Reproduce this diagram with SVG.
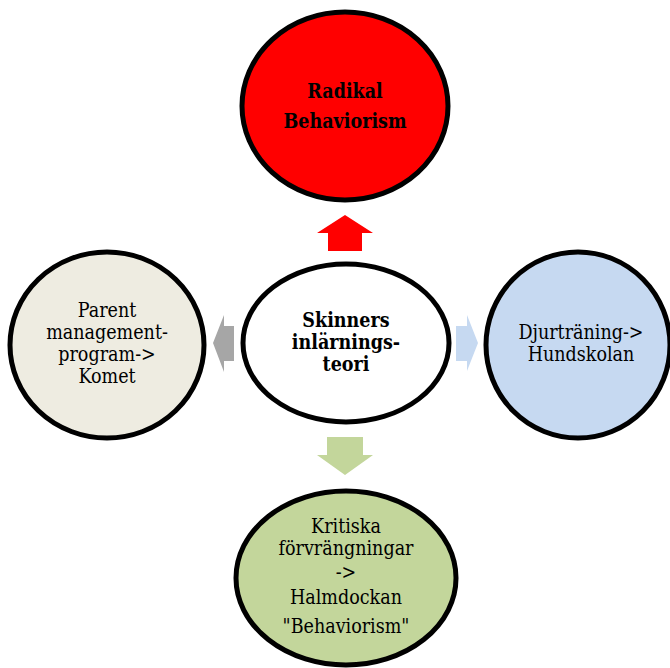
<svg xmlns="http://www.w3.org/2000/svg" width="670" height="668" viewBox="0 0 670 668">
<style>
.n{stroke:#000;stroke-width:5}
text{font-family:"DejaVu Serif Condensed","DejaVu Serif",serif;font-stretch:condensed;font-size:19.5px;fill:#000;text-anchor:middle}
.b{font-weight:bold;font-size:19.5px}
</style>
<rect width="670" height="668" fill="#fff"/>
<g id="connectors">
<polygon points="345,215 373,233 362,233 362,251 328,251 328,233 317,233" fill="#FF0000"/>
<polygon points="213,343 224,315 224,326 234,326 234,361 224,361 224,372" fill="#A6A6A6"/>
<polygon points="478,343 467,315 467,326 456,326 456,361 467,361 467,371" fill="#C6D9F1"/>
<polygon points="345,475 373,455 363,455 363,437 327,437 327,455 317,455" fill="#C3D69B"/>
</g>
<g id="top">
<ellipse class="n" cx="345" cy="106" rx="103" ry="94" fill="#FF0000"/>
<text class="b" x="345" y="98">Radikal</text>
<text class="b" x="345" y="128">Behaviorism</text>
</g>
<g id="center">
<ellipse class="n" cx="346" cy="343" rx="103" ry="79" fill="#fff"/>
<text class="b" x="346" y="327">Skinners</text>
<text class="b" x="346" y="349">inlärnings-</text>
<text class="b" x="346" y="371">teori</text>
</g>
<g id="left">
<ellipse class="n" cx="107" cy="345" rx="97" ry="93" fill="#EEECE1"/>
<text x="107" y="317">Parent</text>
<text x="107" y="339">management-</text>
<text x="107" y="361">program-&gt;</text>
<text x="107" y="383">Komet</text>
</g>
<g id="right">
<ellipse class="n" cx="578" cy="345" rx="92" ry="93" fill="#C6D9F1"/>
<text x="581" y="339">Djurträning-&gt;</text>
<text x="581" y="361">Hundskolan</text>
</g>
<g id="bottom">
<ellipse class="n" cx="346" cy="578" rx="110" ry="87" fill="#C3D69B"/>
<text x="346" y="533">Kritiska</text>
<text x="346" y="555">förvrängningar</text>
<text x="346" y="579">-&gt;</text>
<text x="346" y="604">Halmdockan</text>
<text x="346" y="633">"Behaviorism"</text>
</g>
</svg>
